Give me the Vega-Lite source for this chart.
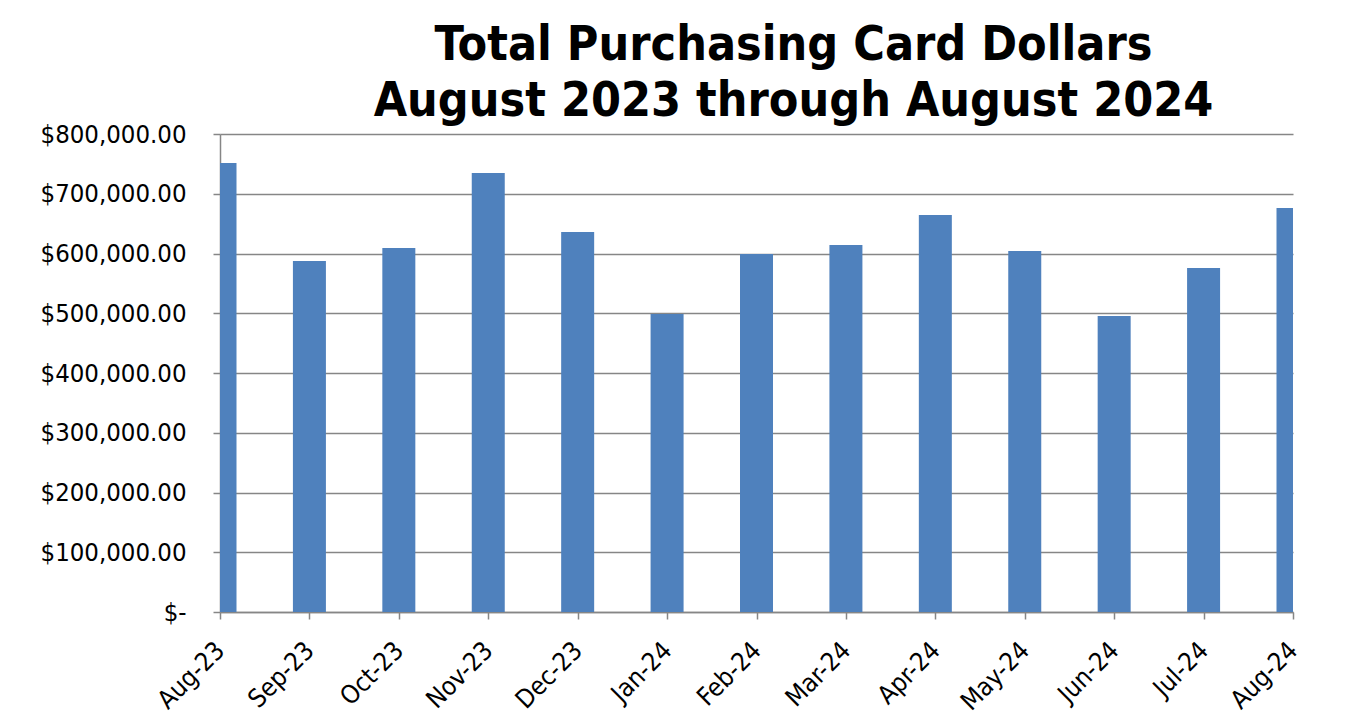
{
  "$schema": "https://vega.github.io/schema/vega-lite/v6.json",
  "width": 1073,
  "height": 478,
  "autosize": {"type": "none"},
  "padding": {"left": 220, "top": 134, "right": 56, "bottom": 105},
  "background": "white",
  "title": {
    "text": ["Total Purchasing Card Dollars", "August 2023 through August 2024"],
    "font": "DejaVu Sans Condensed",
    "fontWeight": "bold",
    "fontSize": 48,
    "lineHeight": 56,
    "color": "black",
    "anchor": "middle",
    "dx": 37,
    "offset": -4
  },
  "data": {
    "values": [
      {"month": "Aug-23", "dollars": 751500},
      {"month": "Sep-23", "dollars": 587400},
      {"month": "Oct-23", "dollars": 609200},
      {"month": "Nov-23", "dollars": 734700},
      {"month": "Dec-23", "dollars": 636000},
      {"month": "Jan-24", "dollars": 498700},
      {"month": "Feb-24", "dollars": 599200},
      {"month": "Mar-24", "dollars": 614200},
      {"month": "Apr-24", "dollars": 664400},
      {"month": "May-24", "dollars": 604200},
      {"month": "Jun-24", "dollars": 495400},
      {"month": "Jul-24", "dollars": 575700},
      {"month": "Aug-24", "dollars": 676200}
    ]
  },
  "mark": {"type": "bar", "size": 33, "color": "#4f81bd", "clip": true},
  "encoding": {
    "x": {
      "field": "month",
      "type": "ordinal",
      "sort": null,
      "scale": {"type": "point", "padding": 0},
      "axis": {
        "title": null,
        "grid": false,
        "labelAngle": -45,
        "labelAlign": "right",
        "labelBaseline": "middle",
        "labelPadding": 27,
        "labelOverlap": false,
        "labelFlush": false,
        "tickSize": 7
      }
    },
    "y": {
      "field": "dollars",
      "type": "quantitative",
      "scale": {"domain": [0, 800000], "nice": false},
      "axis": {
        "title": null,
        "values": [0, 100000, 200000, 300000, 400000, 500000, 600000, 700000, 800000],
        "labelExpr": "datum.value == 0 ? '$-\u00a0\u00a0\u00a0\u00a0\u00a0\u00a0' : '$' + format(datum.value, ',.2f')",
        "tickSize": 7,
        "labelPadding": 27,
        "grid": true
      }
    }
  },
  "config": {
    "view": {"stroke": null},
    "axis": {
      "domainColor": "#868686",
      "domainWidth": 1.5,
      "tickColor": "#868686",
      "tickWidth": 1.5,
      "gridColor": "#868686",
      "gridWidth": 1.5,
      "labelFont": "DejaVu Sans Condensed",
      "labelFontSize": 25.5,
      "labelColor": "black"
    }
  }
}
